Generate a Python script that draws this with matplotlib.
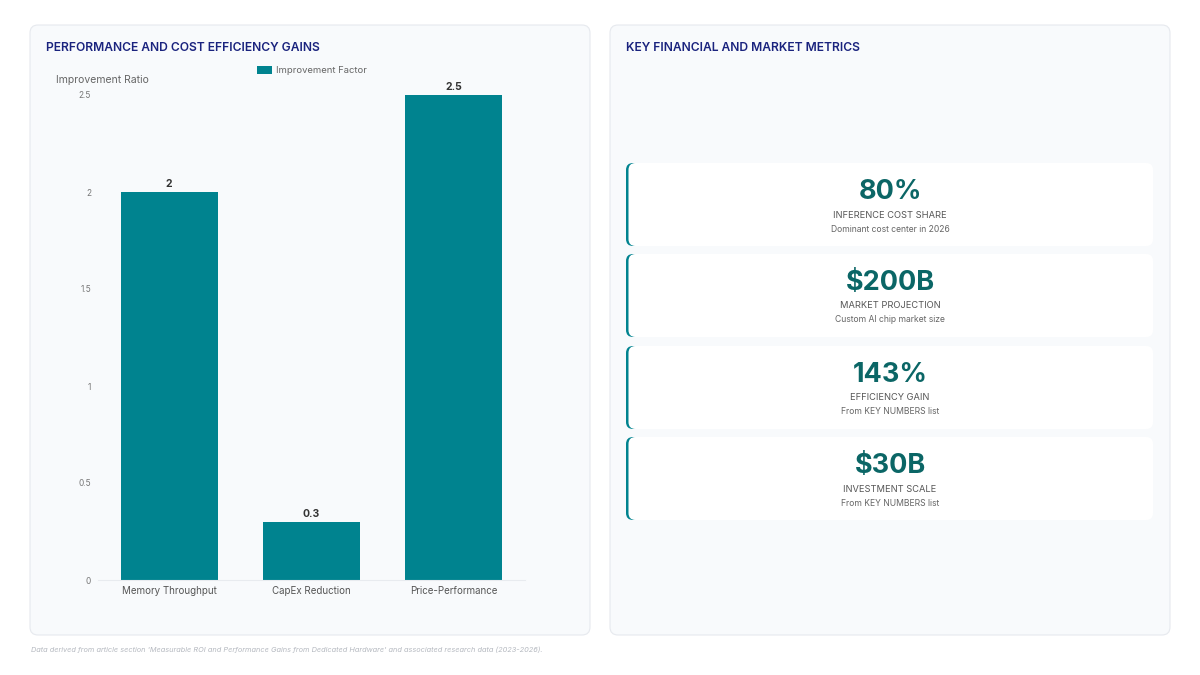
import matplotlib
matplotlib.use('Agg')
import matplotlib.pyplot as plt
from matplotlib.patches import FancyBboxPatch

plt.rcParams['font.family'] = ['Inter', 'DejaVu Sans']

categories = ['Memory Throughput', 'CapEx Reduction', 'Price-Performance']
factors = [2, 0.3, 2.5]
value_labels = ['2', '0.3', '2.5']
yticks = [0, 0.5, 1, 1.5, 2, 2.5]
ytick_labels = ['0', '0.5', '1', '1.5', '2', '2.5']

metric_values = ['80%', '$200B', '143%', '$30B']
metric_names = ['INFERENCE COST SHARE', 'MARKET PROJECTION', 'EFFICIENCY GAIN', 'INVESTMENT SCALE']
metric_notes = ['Dominant cost center in 2026', 'Custom AI chip market size',
                'From KEY NUMBERS list', 'From KEY NUMBERS list']

TEAL = '#00838F'
DARK_TEAL = '#0B6666'
NAVY = '#1A237E'
W, H = 1200, 675

fig = plt.figure(figsize=(12, 6.75), dpi=100)
fig.patch.set_facecolor('white')

# background layer in pixel coords
bg = fig.add_axes([0, 0, 1, 1], zorder=0)
bg.set_xlim(0, W)
bg.set_ylim(H, 0)
bg.axis('off')

for x0 in (30, 610):
    bg.add_patch(FancyBboxPatch((x0, 25), 560, 610, boxstyle='round,pad=0,rounding_size=8',
                                fc='#F8FAFC', ec='#E6E9EE', lw=0.8))

bg.text(46, 48, 'PERFORMANCE AND COST EFFICIENCY GAINS', fontsize=8.7, fontweight='semibold',
        color=NAVY, va='center', ha='left')
bg.text(626, 48, 'KEY FINANCIAL AND MARKET METRICS', fontsize=8.7, fontweight='semibold',
        color=NAVY, va='center', ha='left')
bg.text(56, 80, 'Improvement Ratio', fontsize=7.5, color='#666666', va='center', ha='left')

card_tops = [163, 254, 346, 437]
card_h = 83
for i, top in enumerate(card_tops):
    # teal left edge, then white card over it
    bg.add_patch(FancyBboxPatch((626, top), 30, card_h, boxstyle='round,pad=0,rounding_size=7',
                                fc=TEAL, ec='none'))
    bg.add_patch(FancyBboxPatch((628.5, top), 524.5, card_h, boxstyle='round,pad=0,rounding_size=7',
                                fc='white', ec='none'))
    cx = 890
    bg.text(cx, top + 29, metric_values[i], fontsize=19.5, fontweight='bold',
            color=DARK_TEAL, ha='center', va='center')
    bg.text(cx, top + 52, metric_names[i], fontsize=6.7, color='#555555',
            ha='center', va='center')
    bg.text(cx, top + 66, metric_notes[i], fontsize=6.2, color='#666666',
            ha='center', va='center')

bg.text(31, 650, "Data derived from article section 'Measurable ROI and Performance Gains from "
        "Dedicated Hardware' and associated research data (2023-2026).",
        fontsize=5.3, style='italic', color='#B5B9C0', ha='left', va='center')

# bar chart
ax = fig.add_axes([98 / W, (H - 580) / H, 427 / W, 485 / H], zorder=1)
ax.set_facecolor('none')
x = list(range(len(categories)))
bars = ax.bar(x, factors, width=0.68, color=TEAL, label='Improvement Factor')
ax.set_xlim(-0.5, 2.5)
ax.set_ylim(0, 2.5)
ax.set_xticks(x)
ax.set_xticklabels(categories, fontsize=7, color='#555555')
ax.set_yticks(yticks)
ax.set_yticklabels(ytick_labels, fontsize=6, color='#777777')
ax.tick_params(length=0)
ax.tick_params(axis='x', pad=4)
ax.tick_params(axis='y', pad=5)
for s in ('top', 'right', 'left'):
    ax.spines[s].set_visible(False)
ax.spines['bottom'].set_color('#E8EBEF')
ax.spines['bottom'].set_linewidth(0.8)

for b, lab in zip(bars, value_labels):
    ax.annotate(lab, (b.get_x() + b.get_width() / 2, b.get_height()), xytext=(0, 2),
                textcoords='offset points', ha='center', va='bottom', fontsize=7.5,
                fontweight='bold', color='#333333', annotation_clip=False)

leg = ax.legend(loc='center', bbox_to_anchor=(0.5, 1.05), frameon=False, fontsize=6.8,
                handlelength=1.6, handleheight=0.8, handletextpad=0.4)
for t in leg.get_texts():
    t.set_color('#666666')

fig.savefig('out.png', dpi=100, facecolor='white')
